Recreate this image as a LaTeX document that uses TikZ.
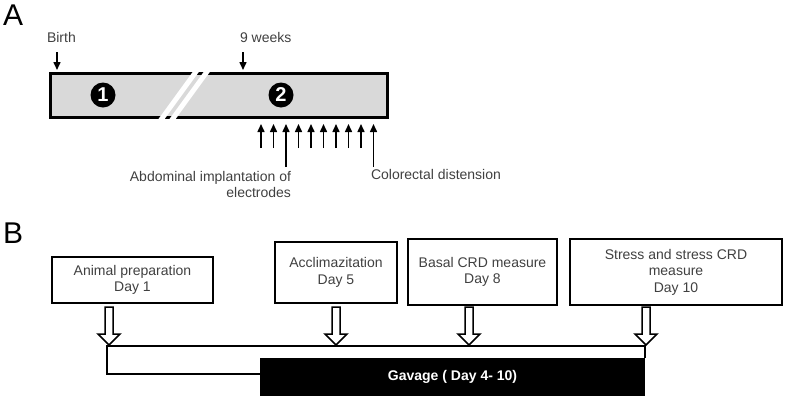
\documentclass[tikz,border=0pt]{standalone}
\usepackage{fontspec}
\setmainfont{Liberation Sans}
\usetikzlibrary{arrows.meta}
\definecolor{bargray}{RGB}{217,217,217}
\definecolor{txtgray}{RGB}{64,64,64}
\begin{document}
\begin{tikzpicture}[>={Triangle[length=8pt,width=7pt]}, x=1pt, y=-1pt,
    font=\fontsize{14}{16.5}\selectfont,
    every node/.style={inner sep=0pt, outer sep=0pt},
    lbl/.style={text=txtgray},
    panel/.style={font=\fontsize{30}{30}\selectfont},
    num/.style={circle, fill=black, text=white, minimum size=25pt, font=\fontsize{20}{20}\selectfont\bfseries},
    daybox/.style={draw, line width=2.5pt, text=txtgray, align=center},
    hollow/.style={draw, line width=1.5pt, fill=white, line join=miter}]
\useasboundingbox (0,0) rectangle (787,400);

% A: timeline
\node[panel, anchor=base west] (pA) at (3,25) {A};
\node[lbl, anchor=base west] (birth) at (47,42) {Birth};
\node[lbl, anchor=base west] (wk) at (240,42) {9 weeks};
\node[draw, line width=3pt, fill=bargray, minimum width=337pt, minimum height=44pt, anchor=north west] (bar) at (50,73) {};
% break in the bar
\draw[white, line width=5pt] (198.2,68.6) -- (159.8,121.4);
\draw[white, line width=5pt] (209.2,68.6) -- (170.8,121.4);
\node[num] (n1) at (103,95) {1};
\node[num] (n2) at (281,95) {2};
\draw[->, line width=1.5pt] ([xshift=7pt, yshift=21pt]bar.north west) -- ([xshift=7pt, yshift=3pt]bar.north west);
\draw[->, line width=1.5pt] ([xshift=193pt, yshift=21pt]bar.north west) -- ([xshift=193pt, yshift=3pt]bar.north west);
\foreach \i/\l in {0/24,1/24,2/43,3/24,4/24,5/24,6/24,7/24,8/24,9/43}
    \draw[->, line width=1.5pt] ([xshift={(211+12.5*\i)*1pt}, yshift={(-7-\l)*1pt}]bar.south west)
        -- ([xshift={(211+12.5*\i)*1pt}, yshift=-7pt]bar.south west);
\node[lbl, align=right, anchor=north east] (impl) at (291,171) {Abdominal implantation of\\electrodes};
\node[lbl, anchor=north west] (crd) at (371,169) {Colorectal distension};

% B: protocol
\node[panel, anchor=base west] (pB) at (3,243) {B};
\node[daybox, minimum width=161pt, minimum height=46pt] (prep) at (132.5,280) {Animal preparation\\Day 1};
\node[daybox, minimum width=122pt, minimum height=61pt] (accl) at (336,272.5) {Acclimazitation\\Day 5};
\node[daybox, minimum width=149pt, minimum height=66pt] (basal) at (482.5,272) {Basal CRD measure\\Day 8};
\node[daybox, minimum width=212pt, minimum height=66pt] (stress) at (676,272) {Stress and stress CRD\\measure\\Day 10};
\node[fill=black, text=white, font=\fontsize{14}{16.5}\selectfont\bfseries, minimum width=385pt, minimum height=38pt, anchor=north west] (gav) at (260,358) {Gavage ( Day 4- 10)};
\draw[line width=1.8pt] (gav.north east) -- ++(0,-12) -| (107,374) -- (gav.west |- 0,374);
% hollow arrows onto the time line
\coordinate (t1) at (109,345);
\coordinate (t2) at (336,345);
\coordinate (t3) at (469,345);
\coordinate (t4) at (646,345);
\foreach \t in {t1,t2,t3,t4}
    \draw[hollow] (\t) -- ++(-11,-11) -- ++(7,0) -- ++(0,-27) -- ++(8,0) -- ++(0,27) -- ++(7,0) -- cycle;
\end{tikzpicture}
\end{document}
